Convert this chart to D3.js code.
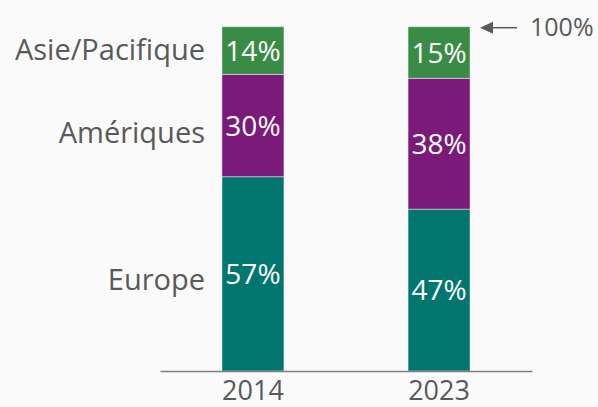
<!DOCTYPE html>
<html>
<head>
<meta charset="utf-8">
<script src="https://cdn.jsdelivr.net/npm/d3@7"></script>
<style>
  body { margin: 0; background: #fafafa; }
  svg { display: block; font-family: "Open Sans", sans-serif; }
</style>
</head>
<body>
<svg id="svg" width="598" height="407"></svg>
<script>
// data
var years = ["2014", "2023"];
var regions = ["Europe", "Amériques", "Asie/Pacifique"];   // bottom -> top
var europe = [57, 47];
var ameriques = [30, 38];
var asie = [14, 15];
var regionColors = ["#00766f", "#7b1a78", "#3a8b46"];

var rows = years.map(function(y, i) {
    return { year: y, "Europe": europe[i], "Amériques": ameriques[i], "Asie/Pacifique": asie[i] };
});

var svg = d3.select("#svg");

var xScale = d3.scaleBand()
    .domain(years)
    .range([160, 532])
    .paddingInner(0.667)
    .paddingOuter(0.333);

var yScale = d3.scaleLinear()
    .domain([0, 1])
    .range([371, 26.7]);

var stack = d3.stack()
    .keys(regions)
    .offset(d3.stackOffsetExpand);
var series = stack(rows);

var groups = svg.selectAll("g.serie")
    .data(series)
    .enter()
    .append("g")
    .attr("class", "serie")
    .attr("fill", function(d, i) { return regionColors[i]; });

groups.selectAll("rect")
    .data(function(d) { return d; })
    .enter()
    .append("rect")
    .attr("x", function(d) { return xScale(d.data.year); })
    .attr("width", xScale.bandwidth())
    .attr("y", function(d) { return yScale(d[1]); })
    .attr("height", function(d) { return yScale(d[0]) - yScale(d[1]); })
    .attr("stroke", "#fff")
    .attr("stroke-opacity", 0.45)
    .attr("stroke-width", 1);

// percentage labels inside the segments
groups.selectAll("text")
    .data(function(d) { return d.map(function(p) { p.key = d.key; return p; }); })
    .enter()
    .append("text")
    .attr("x", function(d) { return xScale(d.data.year) + xScale.bandwidth() / 2; })
    .attr("y", function(d) { return yScale((d[0] + d[1]) / 2) + 10; })
    .attr("text-anchor", "middle")
    .attr("fill", "#fff")
    .style("font-size", "28px")
    .text(function(d) { return d.data[d.key] + "%"; });

// region names on the left
svg.selectAll("text.region")
    .data(series)
    .enter()
    .append("text")
    .attr("class", "region")
    .attr("x", 205)
    .attr("y", function(d) {
        var mid = d3.mean(d, function(p) { return yScale((p[0] + p[1]) / 2); });
        return mid + 8.5;
    })
    .attr("text-anchor", "end")
    .attr("fill", "#595959")
    .style("font-size", "29px")
    .text(function(d) { return d.key; });

// axis
var axis = svg.append("g")
    .attr("transform", "translate(0,371)")
    .call(d3.axisBottom(xScale).tickSize(0));
axis.select(".domain").attr("stroke", "#7f7f7f").attr("stroke-width", 1.5);
axis.selectAll("text")
    .attr("fill", "#595959")
    .attr("y", 29)
    .attr("dy", 0)
    .style("font-size", "27px")
    .style("font-family", "Open Sans, sans-serif");

// 100% marker
var top100 = yScale(1) + 1;
svg.append("line")
    .attr("x1", 486).attr("x2", 517)
    .attr("y1", top100).attr("y2", top100)
    .attr("stroke", "#595959")
    .attr("stroke-width", 1.5);
svg.append("path")
    .attr("d", "M480," + top100 + " l13,-6 l0,12 z")
    .attr("fill", "#595959");
svg.append("text")
    .attr("x", 530)
    .attr("y", 35.7)
    .attr("fill", "#595959")
    .style("font-size", "25px")
    .text("100%");
</script>
</body>
</html>
